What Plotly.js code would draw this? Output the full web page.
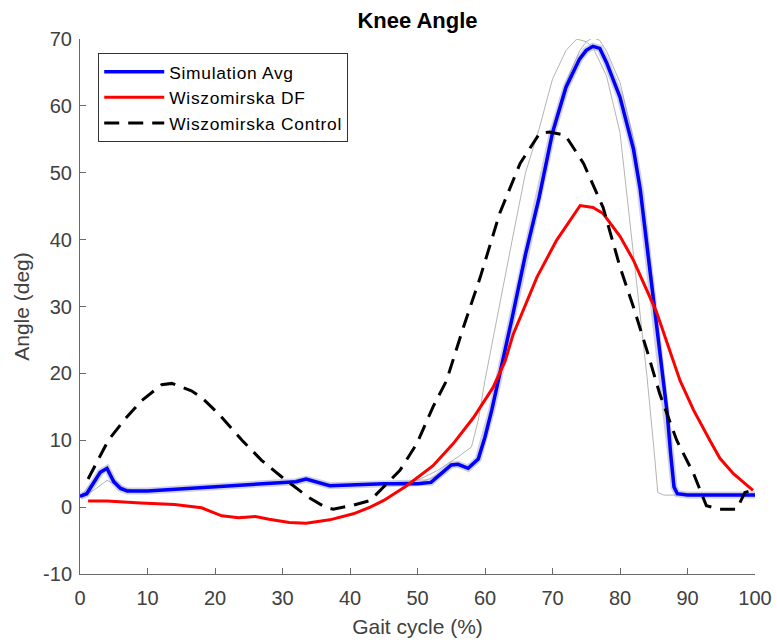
<!DOCTYPE html>
<html>
<head>
<meta charset="utf-8">
<script src="https://cdn.plot.ly/plotly-3.0.1.min.js"></script>
<style>html,body{margin:0;padding:0;background:#fff;}#chart{width:777px;height:642px;}.legendtext{letter-spacing:0.7px;}</style>
</head>
<body>
<div id="chart"></div>
<script>
// Simulation average (blue)
const simX = [0, 1, 2, 3, 4, 5, 6, 7, 10, 15, 20, 25, 30, 32, 33.5, 35, 37, 40, 45, 50, 52, 53.5, 55, 56, 57.5, 59, 60, 61, 62, 63, 64, 66, 68, 70, 72, 74, 75, 76, 77, 78, 80, 82, 83, 84, 85, 86, 87, 87.5, 88, 88.5, 90, 95, 100];
const simY = [1.6, 2.0, 3.6, 5.2, 5.8, 3.8, 2.8, 2.4, 2.4, 2.7, 3.0, 3.3, 3.6, 3.8, 4.2, 3.8, 3.2, 3.3, 3.5, 3.5, 3.7, 5.0, 6.3, 6.4, 5.8, 7.2, 10.5, 14.5, 19, 23.5, 28.2, 37.8, 46.2, 56, 62.8, 67, 68.3, 68.9, 68.6, 66.5, 61.3, 53.5, 47.5, 39, 30.5, 22, 14, 8, 3, 2.0, 1.8, 1.8, 1.8];
// Individual simulation trials (thin gray)
const trial1X = [0, 2, 4, 6, 8, 10, 20, 30, 33.5, 37, 45, 50, 53, 56, 58, 59, 60, 62, 64, 66, 68, 70, 72, 73.6, 75, 76, 78, 80, 81, 82, 83, 84, 85, 85.6, 86.5, 90, 100];
const trial1Y = [1.6, 2.5, 4.0, 3.0, 2.5, 2.4, 3.0, 3.6, 4.2, 3.2, 3.5, 4.0, 5.5, 7.5, 9.0, 13, 19, 29.6, 39.8, 50, 56.5, 64, 68.3, 70.0, 69.6, 68.7, 64.5, 56, 47, 37, 28.5, 19.5, 9, 2.2, 1.8, 1.8, 1.8];
const trial2X = [0, 3, 4, 5, 7, 10, 20, 30, 33.5, 37, 45, 50, 53.5, 55, 56, 57.5, 59, 60, 62, 64, 66, 68, 70, 72, 74, 75, 76, 77, 78, 80, 82, 84, 86, 87, 88, 88.5, 90, 100];
const trial2Y = [1.6, 5.0, 5.6, 4.2, 2.4, 2.4, 3.0, 3.6, 4.4, 3.2, 3.5, 3.5, 5.0, 6.5, 6.6, 6.0, 7.0, 10, 18.5, 28, 37.5, 46.5, 56.5, 63.5, 68.2, 69.6, 70.2, 69.8, 68.2, 63.5, 55, 41, 24, 15, 4, 2.0, 1.8, 1.8];
// Wiszomirska DF (red)
const dfX = [1.2, 4, 9, 14, 18, 21, 23.5, 26, 28, 31, 33.5, 37, 40.5, 43, 45, 48.4, 52.3, 55.3, 58.3, 61.2, 63, 64.2, 67.7, 70.6, 74.1, 76, 77.5, 80, 82, 85.4, 88.9, 90.9, 93.3, 94.8, 96.8, 99.7];
const dfY = [0.9, 0.9, 0.6, 0.4, -0.1, -1.3, -1.6, -1.4, -1.8, -2.3, -2.4, -1.9, -1.0, 0.0, 1.0, 3.2, 6.2, 9.5, 13.4, 17.9, 21.9, 25.9, 34.4, 39.9, 45.1, 44.8, 43.9, 40.5, 36.9, 29.2, 18.9, 14.5, 10, 7.3, 5.0, 2.5];
// Wiszomirska Control (black dashed)
const ctlX = [1.2, 4.2, 6.7, 9.1, 12.1, 13.6, 16.5, 18, 20.5, 24, 26.9, 29.9, 33.8, 36.3, 37.5, 40.5, 43, 45, 47.4, 49.9, 52.3, 54.3, 56.8, 59.3, 62.2, 65.2, 68.1, 69.6, 71.9, 74.6, 77.5, 80, 82, 84, 85.9, 88.4, 90.9, 92.8, 94.8, 97.3, 98.5, 99.5];
const ctlY = [4.2, 10, 13.2, 15.9, 18.3, 18.5, 17.4, 16.4, 14.0, 10, 7.0, 4.5, 1.5, 0.0, -0.3, 0.3, 1.0, 3.0, 5.5, 9.5, 15, 18.9, 26.9, 34.4, 44, 51.4, 55.9, 56.1, 55.6, 51.4, 44.8, 35.9, 29.9, 23.4, 16.9, 10, 5.0, 0.2, -0.3, -0.3, 2.2, 2.5];

const seriesNames = ['Simulation Avg', 'Wiszomirska DF', 'Wiszomirska Control'];
const xTicks = [0, 10, 20, 30, 40, 50, 60, 70, 80, 90, 100];
const yTicks = [-10, 0, 10, 20, 30, 40, 50, 60, 70];

const FONT = '"Liberation Sans", Arial, Helvetica, sans-serif';

const traces = [
  {x: trial1X, y: trial1Y, mode: 'lines', line: {color: '#b4b4b4', width: 1}, showlegend: false, hoverinfo: 'skip'},
  {x: trial2X, y: trial2Y, mode: 'lines', line: {color: '#b4b4b4', width: 1}, showlegend: false, hoverinfo: 'skip'},
  {x: simX, y: simY, mode: 'lines', line: {color: 'rgba(150,150,185,0.45)', width: 7}, showlegend: false, hoverinfo: 'skip'},
  {x: simX, y: simY, mode: 'lines', name: seriesNames[0], line: {color: '#0000ff', width: 3.5}},
  {x: dfX, y: dfY, mode: 'lines', name: seriesNames[1], line: {color: '#ff0000', width: 3}},
  {x: ctlX, y: ctlY, mode: 'lines', name: seriesNames[2], line: {color: '#000000', width: 3, dash: '15px,9px'}}
];

const axisCommon = {
  showgrid: false, zeroline: false, showline: true, linecolor: '#6a6a6a', linewidth: 1,
  ticks: 'inside', ticklen: 6, tickcolor: '#6a6a6a', tickwidth: 1,
  tickfont: {family: FONT, size: 20, color: '#404040'}, automargin: false
};

const layout = {
  width: 777, height: 642,
  paper_bgcolor: '#ffffff', plot_bgcolor: '#ffffff',
  margin: {l: 80, r: 22, t: 39, b: 68},
  title: {text: '<b>Knee Angle</b>', font: {family: FONT, size: 22, color: '#000'}, x: 0.5, xref: 'paper', y: 1 - 20/642, yref: 'container', yanchor: 'middle'},
  xaxis: Object.assign({}, axisCommon, {range: [0, 100], tickvals: xTicks, ticktext: xTicks.map(String), ticklabelstandoff: 6,
    title: {text: 'Gait cycle (%)', font: {family: FONT, size: 21, color: '#404040'}, standoff: 11}}),
  yaxis: Object.assign({}, axisCommon, {range: [-10, 70], tickvals: yTicks, ticktext: yTicks.map(String), ticklabelstandoff: 3,
    title: {text: 'Angle (deg)', font: {family: FONT, size: 21, color: '#404040'}, standoff: 7}}),
  legend: {x: 0.027, y: 0.974, xanchor: 'left', yanchor: 'top', bgcolor: '#ffffff', bordercolor: '#333', borderwidth: 1,
    font: {family: FONT, size: 17.4, color: '#000'}, itemwidth: 60, traceorder: 'normal'},
  showlegend: true
};

Plotly.newPlot('chart', traces, layout, {staticPlot: true, displayModeBar: false});
</script>
</body>
</html>
